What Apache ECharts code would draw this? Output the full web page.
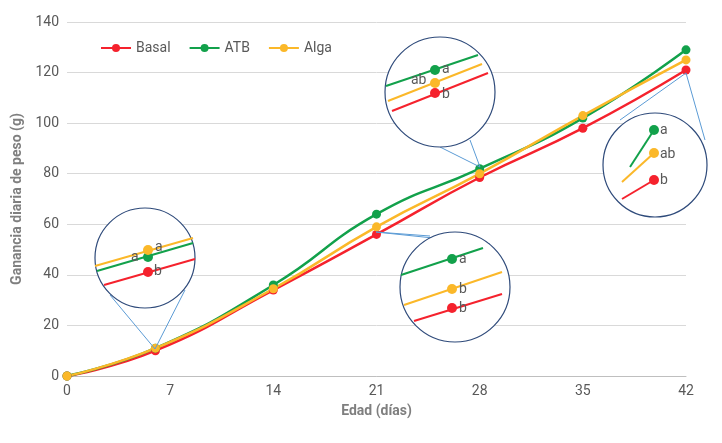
<!DOCTYPE html>
<html><head><meta charset="utf-8">
<script src="https://cdn.jsdelivr.net/npm/echarts@6/dist/echarts.min.js"></script>
<style>html,body{margin:0;padding:0;background:#fff}#c{width:722px;height:443px}</style>
</head><body><div id="c"></div>
<script>
var days = [0, 6, 14, 21, 28, 35, 42];
var basal = [0, 10, 34, 56, 78.5, 98, 121];
var atb = [0, 11, 36, 64, 82, 102, 129];
var alga = [0, 11, 34.5, 59, 80, 103, 125];
var RED='#f5222d', GREEN='#12a14b', YEL='#fbb829';
function pts(arr){return days.map(function(d,i){return [d,arr[i]];});}
var g=[];
function circ(cx,cy,r){g.push({type:'circle',shape:{cx:cx,cy:cy,r:r},style:{fill:'#fff',stroke:'#2e4a7a',lineWidth:1.2},z:10});}
function conn(x1,y1,x2,y2){g.push({type:'line',shape:{x1:x1,y1:y1,x2:x2,y2:y2},style:{stroke:'#5b9bd5',lineWidth:1},z:9});}
function seg(x1,y1,x2,y2,c){g.push({type:'line',shape:{x1:x1,y1:y1,x2:x2,y2:y2},style:{stroke:c,lineWidth:2},z:11});}
function dot(x,y,c){g.push({type:'circle',shape:{cx:x,cy:y,r:5},style:{fill:c},z:12});}
function lab(x,y,t){g.push({type:'text',x:x,y:y,style:{text:t,fill:'#595959',font:'14px Roboto',verticalAlign:'middle'},z:12});}
// inset 1
conn(110,295,155,349);conn(185,290,155,349);
circ(145,258,50);
seg(97,271,193,243,GREEN);dot(148,257,GREEN);lab(131,257,'a');
seg(95,266,193,238,YEL);dot(148,250,YEL);lab(155,247,'a');
seg(104,285,195,259,RED);dot(148,272,RED);lab(154,271,'b');
// inset 2
conn(440,147,480,167);conn(470,140,480,167);
circ(440,92,55);
seg(386,86,478,55,GREEN);dot(435,70,GREEN);lab(442,69,'a');
seg(388,101,482,64,YEL);dot(435,83,YEL);lab(411,80,'ab');
seg(392,111,488,73,RED);dot(435,93,RED);lab(442,94,'b');
// inset 3
conn(376,232,430,236);conn(376,232,490,244);
circ(455,287,55);
seg(401,275,483,248,GREEN);dot(452,259,GREEN);lab(459,259,'a');
seg(404,305,502,272,YEL);dot(452,289,YEL);lab(459,289,'b');
seg(414,321,502,294,RED);dot(452,308,RED);lab(459,308,'b');
// inset 4
conn(686,73,620,120);conn(686,73,705,140);
circ(655,165,52);
seg(630,167,654,130,GREEN);dot(654,130,GREEN);lab(660,130,'a');
seg(622,182,654,153,YEL);dot(654,153,YEL);lab(660,154,'ab');
seg(622,199,654,180,RED);dot(654,180,RED);lab(660,180,'b');
function ser(name,arr,c){return {name:name,type:'line',smooth:true,data:pts(arr),symbol:'circle',symbolSize:9,showSymbol:true,itemStyle:{color:c},lineStyle:{color:c,width:2.5},z:3};}
var chart=echarts.init(document.getElementById('c'));
chart.setOption({
 animation:false,
 textStyle:{fontFamily:'Roboto'},
 grid:{left:67,right:36,top:22,bottom:67},
 legend:{left:95,top:36,itemWidth:30,itemHeight:10,itemGap:18,textStyle:{color:'#595959',fontSize:14},data:['Basal','ATB','Alga']},
 xAxis:{type:'value',min:0,max:42,interval:7,name:'Edad (días)',nameLocation:'middle',nameGap:28,nameTextStyle:{color:'#7f7f7f',fontSize:14,fontWeight:'bold'},
  axisLine:{lineStyle:{color:'#bfbfbf'}},axisTick:{show:false},splitLine:{show:false},axisLabel:{color:'#595959',fontSize:14}},
 yAxis:{type:'value',min:0,max:140,interval:20,name:'Ganancia diaria de peso (g)',nameLocation:'middle',nameGap:42,nameTextStyle:{color:'#7f7f7f',fontSize:14,fontWeight:'bold'},
  axisLine:{show:false},axisTick:{show:false},splitLine:{lineStyle:{color:'#d9d9d9'}},axisLabel:{color:'#595959',fontSize:14}},
 series:[ser('Basal',basal,RED),ser('ATB',atb,GREEN),ser('Alga',alga,YEL)],
 graphic:g
});
</script></body></html>
